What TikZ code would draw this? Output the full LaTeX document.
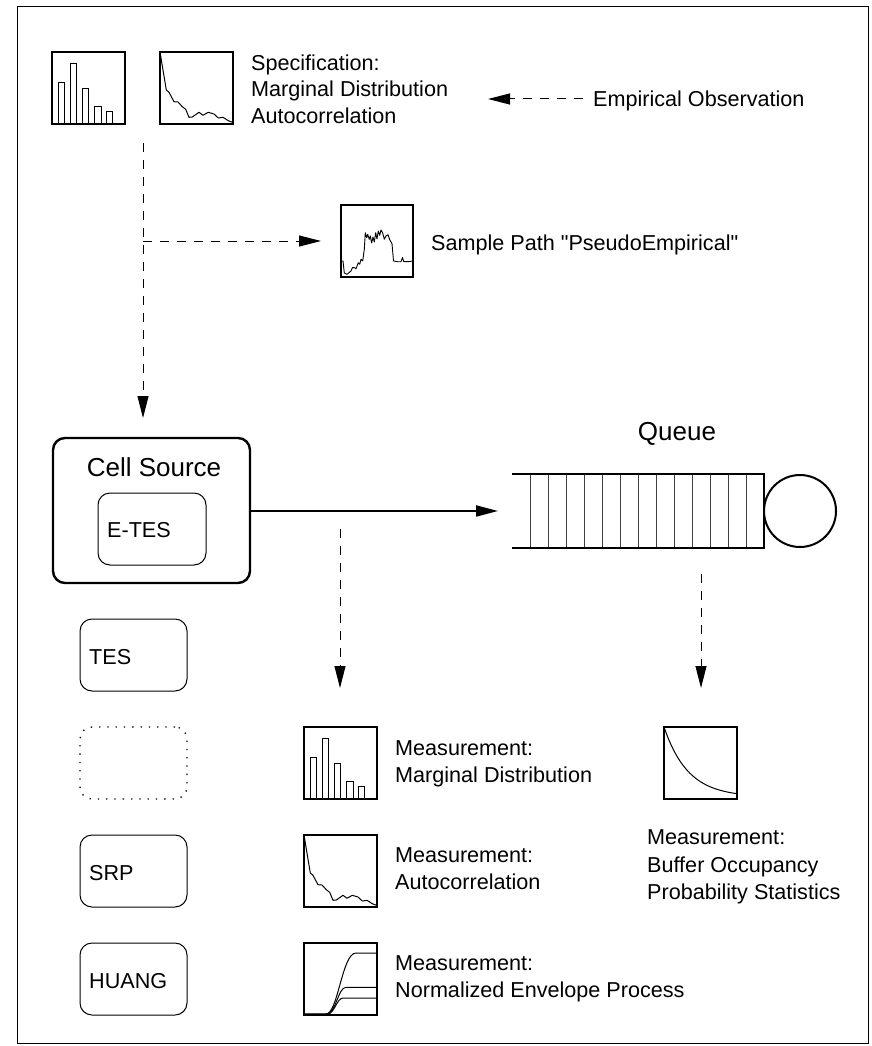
\documentclass[tikz,border=0pt]{standalone}
\usepackage{fontspec}
\setmainfont{Liberation Sans}[Ligatures=TeXOff]
\usetikzlibrary{arrows.meta}
\tikzset{
  histicon/.pic={
    \draw[line width=1.2pt] (0,0) rectangle (73,-72);
    \draw[line width=0.9pt] (6,0) rectangle (12,-42) (18,0) rectangle (24,-61)
      (30,0) rectangle (36.5,-36) (42.5,0) rectangle (49,-18) (54.5,0) rectangle (60.5,-12.5);
  },
  acficon/.pic={
    \draw[line width=1.2pt] (0,0) rectangle (73,-72);
    \draw[line width=1pt, line join=round] (0,-72) -- (6.3,-34) -- (9,-31.7) -- (14,-22.3) -- (18,-22) -- (22.3,-17.3)
      -- (25.7,-14.7) -- (29,-6.7) -- (32.3,-7) -- (39,-11.7) -- (43,-8.7) -- (48.3,-11.7) -- (54,-10)
      -- (58.3,-6) -- (63,-6.7) -- (68.3,-3.3) -- (73,-1.5);
  },
  pathicon/.pic={
    \draw[line width=1.2pt] (0,0) rectangle (72,-72);
    \draw[line width=0.9pt, line join=round] (0,-16) -- (2,-16) -- (3.3,-4) -- (6,-2.7) -- (10,-6) -- (11.5,-9.5)
      -- (13.3,-9.3) -- (15,-8.3) -- (17.3,-14.3) -- (18.7,-12.7) -- (20,-17.7) -- (21.7,-16)
      -- (23.3,-27.7) -- (24.3,-44.3) -- (25.7,-39.3) -- (26.7,-42.7) -- (28.3,-37.7) -- (29.3,-41)
      -- (30.7,-34) -- (32,-40) -- (33.3,-35) -- (34.7,-44.3) -- (36,-38) -- (37.3,-46) -- (38.7,-41.7)
      -- (40,-47) -- (41.7,-44) -- (43.3,-37.7) -- (45,-41) -- (47,-42.3) -- (48.7,-37.3) -- (51,-33.3)
      -- (52.5,-16) -- (56.7,-15.3) -- (60,-15.3) -- (61.5,-19.5) -- (62.7,-15.5) -- (66.7,-15.3) -- (72,-16);
  },
  bufficon/.pic={
    \draw[line width=1.2pt] (0,0) rectangle (73,-72);
    \draw[line width=1pt] plot[domain=0:73, samples=60, smooth] (\x, {-(2+70*exp(-\x/24))});
  },
  envicon/.pic={
    \draw[line width=1.2pt] (0,0) rectangle (73,-72);
    \draw[line width=1pt] (0,-1) -- (22,-1) .. controls (34,-1) and (38,-62) .. (52,-62) -- (73,-62);
    \draw[line width=1pt] (0,-1) -- (22,-1) .. controls (32,-1) and (34,-27.7) .. (42,-27.7) -- (73,-27.7);
    \draw[line width=1pt] (0,-1) -- (24,-1) .. controls (30,-1) and (33,-17) .. (39,-17) -- (73,-17);
  }
}
\begin{document}
\begin{tikzpicture}[x=1pt,y=-1pt,
  every node/.style={inner sep=0pt, font=\fontsize{21.6}{26}\selectfont},
  lbl/.style={anchor=base west},
  bigl/.style={anchor=base, font=\fontsize{26}{30}\selectfont},
  rbox/.style={draw, rounded corners=12pt, line width=1pt, minimum width=107pt, minimum height=72pt},
  srcbox/.style={draw, rounded corners=12pt, line width=2.4pt, minimum width=197pt, minimum height=145pt},
  tip/.style={-{Triangle[length=22pt,width=11pt]}},
  dasharrow/.style={tip, line width=1pt, dash pattern=on 9pt off 8pt},
  dashline/.style={line width=1pt, dash pattern=on 9pt off 8pt}
]
\useasboundingbox (0,0) rectangle (871,1046);
\draw[line width=1pt] (17,7) rectangle (868,1043);

% top specification
\pic (spechist) at (52,124) {histicon};
\pic (specacf) at (160,124) {acficon};
\node[lbl] (spec1) at (251,70.5) {Specification:};
\node[lbl] (spec2) at (251,97) {Marginal Distribution};
\node[lbl] (spec3) at (251,123.5) {Autocorrelation};
\node[lbl] (emp) at (593,106.5) {Empirical Observation};
\coordinate (empend) at (583,99);
\coordinate (emptip) at (488,99);
\draw[dasharrow] (empend) -- (emptip);

% sample path
\pic (sample) at (341,277) {pathicon};
\node[lbl] (samplelbl) at (431,250.5) {Sample Path "PseudoEmpirical"};

% cell source
\node[srcbox] (cell) at (151.5,510.5) {};
\node[bigl] (celllbl) at (154,476.3) {Cell Source};
\node[rbox, minimum width=108pt] (etes) at (152,529) {};
\node[lbl] (eteslbl) at (107,537.5) {E-TES};

% dashed flow from specification
\coordinate (vtop) at (143,143);
\coordinate (vbranch) at (143,241);
\coordinate (vtip) at (143,418);
\coordinate (htip) at (321,241);
\draw[dasharrow] (vtop) -- (vtip);
\draw[dasharrow] (vbranch) -- (htip);

% queue
\node[bigl] (queuelbl) at (677,440.3) {Queue};
\coordinate (qtl) at (512,474);
\coordinate (qbl) at (512,548);
\coordinate (qtr) at (764,474);
\coordinate (qbr) at (764,548);
\foreach \k in {1,...,13} {
  \draw[line width=0.8pt, black!75] (512+18*\k,474) -- (512+18*\k,548);
}
\draw[line width=2pt] (qtl) -- (qtr) -- (qbr) -- (qbl);
\node[draw, circle, line width=2pt, minimum size=72pt] (server) at (800,511) {};
\coordinate (qin) at (498,511);
\draw[tip, line width=2pt] (cell.east |- qin) -- (qin);

% measurement arrows
\coordinate (m1top) at (340,529);
\coordinate (m1tip) at (340,688);
\coordinate (m2top) at (701,574);
\coordinate (m2tip) at (701,688);
\draw[dasharrow] (m1top) -- (m1tip);
\draw[dasharrow] (m2top) -- (m2tip);

% left model boxes
\node[rbox] (tes) at (133.5,655) {};
\node[lbl] (teslbl) at (89,664.5) {TES};
\node[draw, rounded corners=12pt, line width=1.3pt, dash pattern=on 1.3pt off 7pt, minimum width=107pt, minimum height=72pt] (empty) at (133.5,763) {};
\node[rbox] (srp) at (133.5,871) {};
\node[lbl] (srplbl) at (89,880.5) {SRP};
\node[rbox] (huang) at (133.5,979) {};
\node[lbl] (huanglbl) at (89,988.5) {HUANG};

% measurements
\pic (meashist) at (304,799) {histicon};
\node[lbl] (mh1) at (395,755.5) {Measurement:};
\node[lbl] (mh2) at (395,782) {Marginal Distribution};
\pic (measacf) at (304,907) {acficon};
\node[lbl] (ma1) at (395,862.5) {Measurement:};
\node[lbl] (ma2) at (395,889) {Autocorrelation};
\pic (measenv) at (304,1015) {envicon};
\node[lbl] (me1) at (395,970.5) {Measurement:};
\node[lbl] (me2) at (395,997) {Normalized Envelope Process};
\pic (measbuf) at (664,799) {bufficon};
\node[lbl] (mb1) at (647,844.5) {Measurement:};
\node[lbl] (mb2) at (647,872) {Buffer Occupancy};
\node[lbl] (mb3) at (647,899.5) {Probability Statistics};
\end{tikzpicture}
\end{document}
